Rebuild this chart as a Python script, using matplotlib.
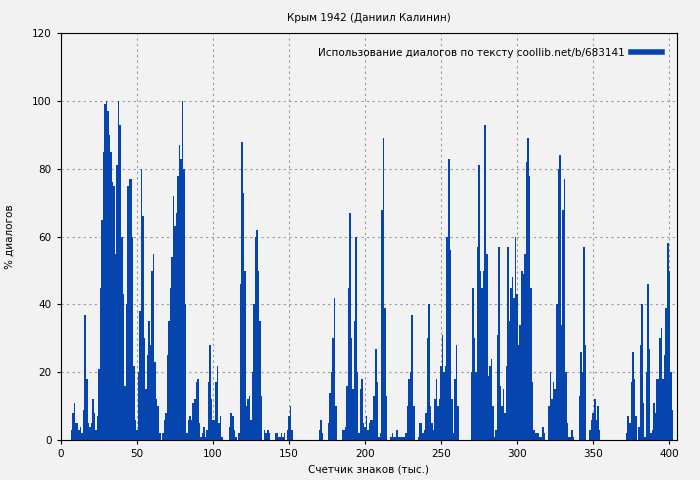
import matplotlib
matplotlib.use('Agg')
import matplotlib.pyplot as plt
from matplotlib.lines import Line2D
import numpy as np

title = 'Крым 1942 (Даниил Калинин)'
legend_label = 'Использование диалогов по тексту coollib.net/b/683141'
xlabel = 'Счетчик знаков (тыс.)'
ylabel = '% диалогов'

# % of dialogue per thousand characters, x = 0 .. 404
values = [
    0, 0, 0, 0, 0, 0, 0, 3, 8, 11,
    5, 5, 3, 4, 2, 9, 37, 18, 5, 4,
    5, 12, 8, 3, 7, 21, 45, 65, 85, 99,
    100, 97, 90, 85, 76, 75, 55, 81, 100, 93,
    60, 43, 16, 40, 75, 77, 77, 60, 22, 6,
    3, 20, 38, 80, 66, 30, 15, 25, 35, 28,
    50, 55, 23, 12, 10, 2, 0, 2, 6, 8,
    25, 35, 45, 54, 72, 63, 67, 78, 87, 83,
    100, 80, 40, 2, 6, 7, 6, 11, 12, 17,
    18, 5, 1, 2, 4, 1, 3, 17, 28, 12,
    6, 6, 17, 22, 5, 7, 1, 0, 0, 0,
    0, 4, 8, 7, 3, 1, 0, 2, 46, 88,
    73, 50, 10, 12, 13, 6, 20, 40, 60, 62,
    50, 35, 13, 0, 3, 2, 3, 2, 0, 0,
    0, 2, 2, 1, 1, 2, 1, 2, 0, 3,
    7, 10, 3, 0, 0, 0, 0, 0, 0, 0,
    0, 0, 0, 0, 0, 0, 0, 0, 0, 0,
    3, 6, 2, 0, 0, 0, 5, 14, 20, 30,
    42, 10, 0, 0, 0, 3, 3, 4, 16, 45,
    67, 30, 15, 35, 60, 20, 2, 15, 18, 5,
    4, 7, 3, 5, 6, 6, 13, 27, 17, 1,
    2, 68, 89, 39, 13, 0, 0, 1, 2, 1,
    1, 3, 1, 1, 1, 1, 1, 2, 10, 18,
    20, 37, 10, 0, 0, 1, 5, 5, 2, 3,
    8, 30, 40, 10, 5, 3, 12, 18, 10, 12,
    22, 31, 20, 22, 60, 83, 56, 12, 2, 18,
    28, 10, 0, 0, 0, 0, 0, 0, 0, 0,
    20, 45, 30, 20, 57, 81, 50, 45, 50, 93,
    55, 19, 22, 24, 10, 1, 3, 31, 57, 16,
    10, 15, 8, 22, 57, 35, 45, 48, 42, 60,
    43, 28, 34, 50, 49, 55, 82, 89, 78, 45,
    17, 3, 2, 2, 2, 1, 1, 4, 2, 0,
    0, 10, 20, 12, 17, 15, 40, 80, 84, 34,
    68, 77, 20, 5, 1, 1, 3, 1, 0, 0,
    0, 13, 26, 20, 57, 28, 0, 0, 3, 6,
    8, 12, 6, 10, 3, 0, 0, 0, 0, 0,
    0, 0, 0, 0, 0, 0, 0, 0, 0, 0,
    0, 0, 2, 7, 5, 17, 26, 18, 7, 0,
    4, 28, 40, 11, 1, 20, 46, 27, 2, 3,
    11, 8, 18, 18, 30, 33, 18, 25, 39, 58,
    50, 20, 9, 0, 0,
]
x = np.arange(len(values))

bar_color = '#0645ad'
bg = '#f2f2f2'
fs = 7.5

fig = plt.figure(figsize=(7, 4.8), dpi=100, facecolor=bg)
ax = fig.add_axes([0.087, 0.083, 0.88, 0.848], facecolor=bg)

ax.bar(x, values, width=1.0, color=bar_color, linewidth=0, zorder=2)

ax.set_xlim(0, 405)
ax.set_ylim(0, 120)
ax.set_xticks(np.arange(0, 401, 50))
ax.set_yticks(np.arange(0, 121, 20))
ax.tick_params(labelsize=fs, length=3)
ax.grid(True, color='#999999', linestyle=(0, (2, 3)), linewidth=0.8, zorder=0)
ax.set_axisbelow(True)

ax.set_title(title, fontsize=fs, pad=9)
ax.set_xlabel(xlabel, fontsize=fs)
ax.set_ylabel(ylabel, fontsize=fs)
ax.yaxis.set_label_coords(-0.075, 0.5)

handle = Line2D([], [], color=bar_color, linewidth=4)
ax.legend([handle], [legend_label], loc='upper right', frameon=False,
          fontsize=fs, markerfirst=False, handlelength=3.0,
          borderaxespad=1.0, handletextpad=0.6)

fig.savefig('out.png', dpi=100, facecolor=bg)
